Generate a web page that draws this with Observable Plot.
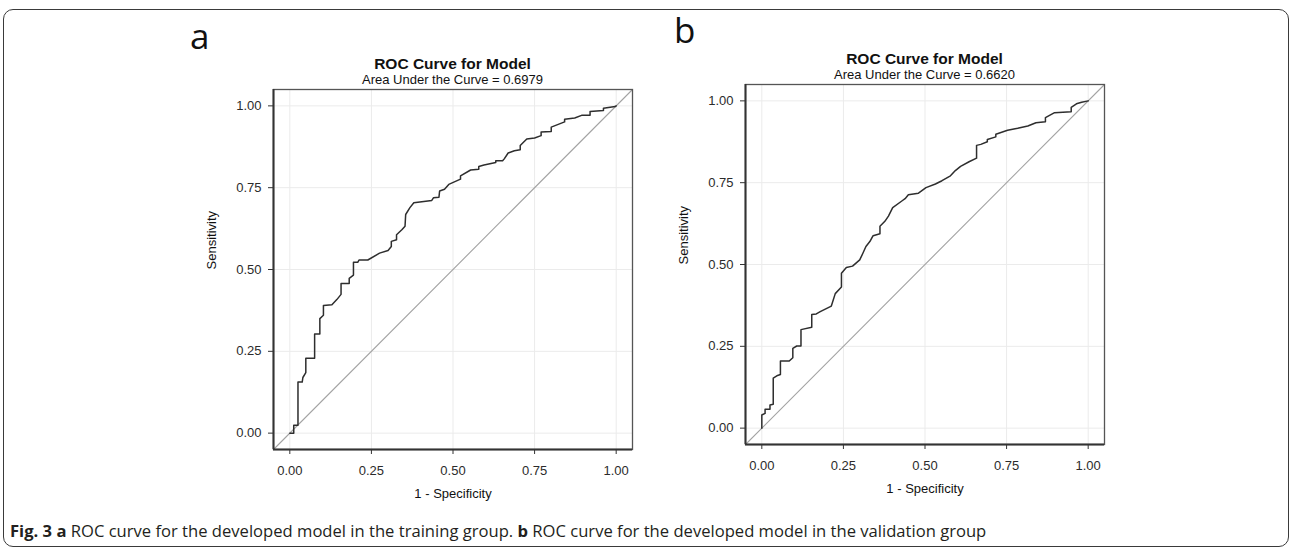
<!DOCTYPE html>
<html>
<head>
<meta charset="utf-8">
<script src="https://cdn.jsdelivr.net/npm/d3@7"></script>
<script src="https://cdn.jsdelivr.net/npm/@observablehq/plot@0.6"></script>
<style>
  body { margin: 0; background: #fff; }
  #root { position: relative; width: 1292px; height: 548px; overflow: hidden; background: #fff; }
  .box { position: absolute; left: 3px; top: 9px; width: 1286px; height: 538px; border: 1.6px solid #3a3a3a; border-radius: 10px; box-sizing: border-box; }
  .panel { position: absolute; }
  .tag { position: absolute; font-family: "Open Sans", sans-serif; font-size: 35px; color: #111; line-height: 1; }
  .ttl { position: absolute; width: 400px; text-align: center; font-family: "Liberation Sans", Arial, sans-serif; color: #111; line-height: 1; transform: translate(-50%, -50%); white-space: nowrap; }
  .ttl.main { font-weight: bold; font-size: 15.5px; }
  .ttl.sub { font-size: 13px; }
  .caption { position: absolute; left: 10px; top: 520px; font-family: "Open Sans", sans-serif; font-size: 16.6px; color: #231f20; white-space: nowrap; line-height: 22px; }
</style>
</head>
<body>
<div id="root">
  <div class="box"></div>
</div>
<script>
// ---- data ----
const panelTags = ["a", "b"];
const chartTitles = ["ROC Curve for Model", "ROC Curve for Model"];
const aucLabels = ["Area Under the Curve = 0.6979", "Area Under the Curve = 0.6620"];
const xTitle = "1 - Specificity";
const yTitle = "Sensitivity";
const tickValues = [0, 0.25, 0.5, 0.75, 1];
const tickLabels = ["0.00", "0.25", "0.50", "0.75", "1.00"];
const axisDomain = [-0.05, 1.05];

// Panel a (training group): 1 - specificity and sensitivity
const fprA = [0,0.012,0.012,0.025,0.025,0.038,0.040,0.049,0.049,0.076,0.076,0.092,0.092,0.103,0.103,0.129,0.144,0.157,0.157,0.182,0.182,0.195,0.195,0.208,0.212,0.239,0.275,0.301,0.311,0.311,0.327,0.327,0.344,0.353,0.355,0.368,0.380,0.435,0.440,0.457,0.459,0.474,0.487,0.523,0.523,0.554,0.579,0.579,0.595,0.631,0.631,0.652,0.657,0.669,0.688,0.706,0.706,0.726,0.750,0.770,0.770,0.801,0.801,0.842,0.842,0.873,0.894,0.920,0.920,0.961,0.961,0.997,1];
const tprA = [0,0,0.024,0.024,0.156,0.156,0.170,0.185,0.229,0.229,0.303,0.303,0.350,0.360,0.390,0.392,0.408,0.424,0.457,0.457,0.473,0.483,0.522,0.522,0.529,0.529,0.550,0.558,0.570,0.586,0.591,0.606,0.622,0.632,0.668,0.689,0.704,0.711,0.719,0.721,0.740,0.745,0.760,0.776,0.786,0.804,0.806,0.815,0.819,0.827,0.832,0.832,0.838,0.856,0.863,0.866,0.879,0.899,0.902,0.909,0.920,0.922,0.935,0.951,0.959,0.963,0.971,0.971,0.983,0.986,0.993,0.998,1];

// Panel b (validation group)
const fprB = [0,0,0.010,0.010,0.025,0.025,0.035,0.035,0.046,0.057,0.057,0.084,0.095,0.095,0.107,0.120,0.120,0.153,0.153,0.167,0.179,0.213,0.225,0.244,0.244,0.259,0.278,0.300,0.310,0.319,0.331,0.341,0.362,0.362,0.377,0.388,0.401,0.429,0.439,0.449,0.480,0.503,0.532,0.552,0.578,0.593,0.609,0.635,0.658,0.658,0.671,0.691,0.691,0.717,0.717,0.753,0.784,0.815,0.840,0.869,0.869,0.897,0.948,0.948,0.964,0.980,1];
const tprB = [0,0.040,0.045,0.058,0.058,0.071,0.073,0.153,0.160,0.164,0.205,0.205,0.215,0.244,0.251,0.251,0.301,0.308,0.347,0.349,0.356,0.373,0.411,0.431,0.473,0.491,0.495,0.514,0.535,0.555,0.570,0.588,0.594,0.617,0.632,0.648,0.674,0.694,0.701,0.713,0.718,0.735,0.746,0.756,0.771,0.787,0.800,0.814,0.825,0.864,0.867,0.875,0.882,0.890,0.898,0.910,0.916,0.923,0.933,0.936,0.949,0.964,0.967,0.980,0.991,0.996,1];

// ---- layout (positions of each panel) ----
const layouts = [
  { left: 150, top: 50, width: 520, height: 470, mL: 123, mR: 38, mT: 39, mB: 71, tagX: 190, tagY: 18, titleY: 64, subY: 79 },
  { left: 630, top: 45, width: 520, height: 470, mL: 115, mR: 46, mT: 39, mB: 71, tagX: 674, tagY: 12, titleY: 59, subY: 74 }
];
const series = [[fprA, tprA], [fprB, tprB]];

const root = document.getElementById("root");
const fmt = d => tickLabels[tickValues.indexOf(d)];

layouts.forEach((L, k) => {
  const [fpr, tpr] = series[k];
  const pts = fpr.map((x, i) => ({ x, y: tpr[i] }));
  const diag = axisDomain.map(v => ({ x: v, y: v }));
  const chart = Plot.plot({
    width: L.width, height: L.height,
    marginLeft: L.mL, marginRight: L.mR, marginTop: L.mT, marginBottom: L.mB,
    x: { domain: axisDomain },
    y: { domain: axisDomain },
    style: { fontFamily: "Liberation Sans, Arial, sans-serif", fontSize: "13px", color: "#2b2b2b", background: "transparent", overflow: "visible" },
    marks: [
      Plot.gridX(tickValues, { stroke: "#ebebeb", strokeOpacity: 1, strokeWidth: 1 }),
      Plot.gridY(tickValues, { stroke: "#ebebeb", strokeOpacity: 1, strokeWidth: 1 }),
      Plot.line(diag, { x: "x", y: "y", stroke: "#a3a3a3", strokeWidth: 1.1 }),
      Plot.line(pts, { x: "x", y: "y", stroke: "#2e2e2e", strokeWidth: 1.5 }),
      Plot.frame({ stroke: "#555", strokeWidth: 1.3 }),
      Plot.ruleX([axisDomain[0]], { stroke: "#333", strokeWidth: 2 }),
      Plot.ruleY([axisDomain[0]], { stroke: "#333", strokeWidth: 2 }),
      Plot.axisX(tickValues, { tickFormat: fmt, tickSize: 5, tickPadding: 11, label: null, fontSize: 13, stroke: "#333" }),
      Plot.axisY(tickValues, { tickFormat: fmt, tickSize: 5, tickPadding: 7, label: null, fontSize: 13, stroke: "#333" }),
      Plot.text([xTitle], { text: d => d, frameAnchor: "bottom", dy: 48, fontSize: 13, fill: "#111" }),
      Plot.text([yTitle], { text: d => d, frameAnchor: "left", dx: -62, rotate: -90, fontSize: 13, fill: "#111" })
    ]
  });
  const wrap = document.createElement("div");
  wrap.className = "panel";
  wrap.style.left = L.left + "px";
  wrap.style.top = L.top + "px";
  wrap.appendChild(chart);
  root.appendChild(wrap);

  const cx = L.left + L.mL + (L.width - L.mL - L.mR) / 2;
  const tag = document.createElement("div");
  tag.className = "tag";
  tag.style.left = L.tagX + "px";
  tag.style.top = L.tagY + "px";
  tag.textContent = panelTags[k];
  root.appendChild(tag);

  const t = document.createElement("div");
  t.className = "ttl main";
  t.style.left = cx + "px";
  t.style.top = L.titleY + "px";
  t.textContent = chartTitles[k];
  root.appendChild(t);

  const s = document.createElement("div");
  s.className = "ttl sub";
  s.style.left = cx + "px";
  s.style.top = L.subY + "px";
  s.textContent = aucLabels[k];
  root.appendChild(s);
});

const cap = document.createElement("div");
cap.className = "caption";
cap.innerHTML = "<b>Fig. 3</b> <b>a</b> ROC curve for the developed model in the training group. <b>b</b> ROC curve for the developed model in the validation group";
root.appendChild(cap);
</script>
</body>
</html>
